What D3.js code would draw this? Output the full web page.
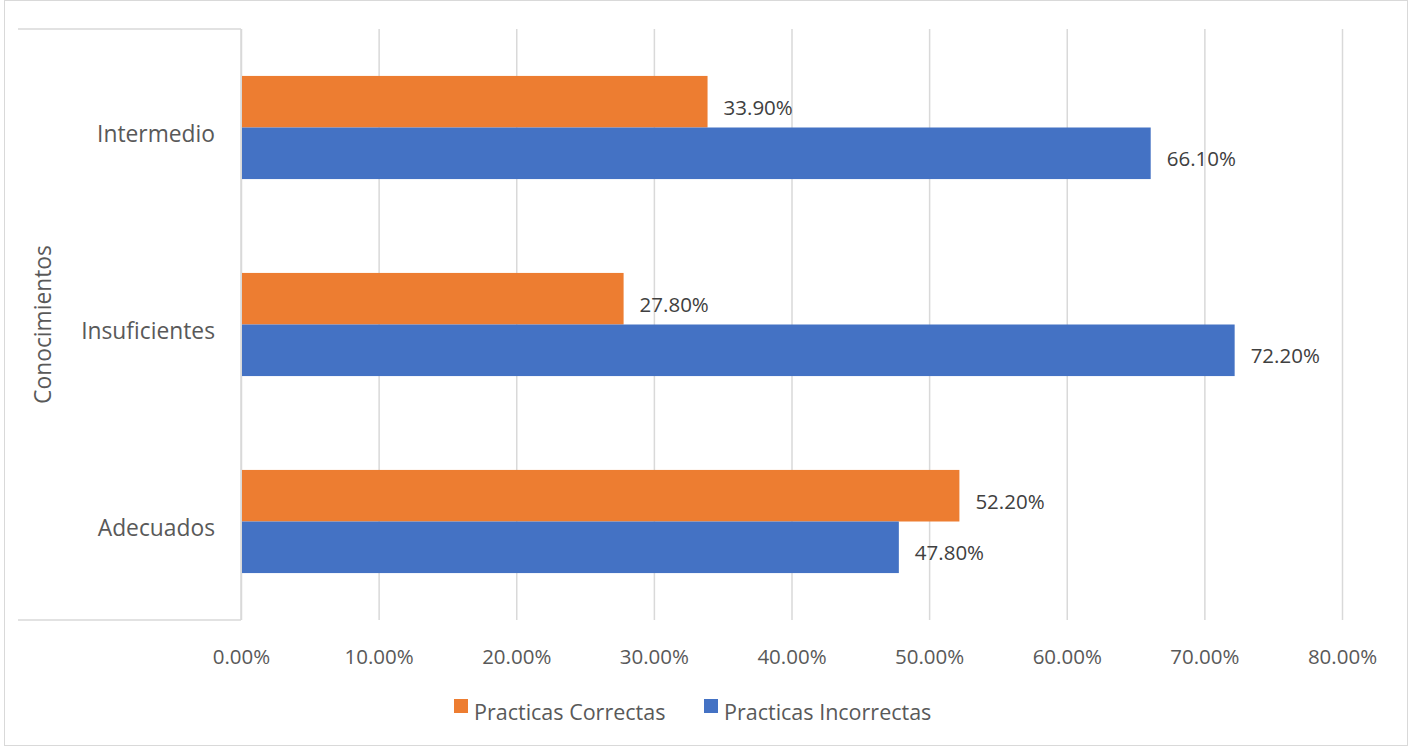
<!DOCTYPE html>
<html>
<head>
<meta charset="utf-8">
<script src="https://cdn.jsdelivr.net/npm/d3@7"></script>
<style>
  body { margin: 0; background: #fff; }
  text { font-family: "Open Sans", "Noto Sans", sans-serif; }
</style>
</head>
<body>
<div id="chart"></div>
<script>
const categories = ["Intermedio", "Insuficientes", "Adecuados"];
const seriesNames = ["Practicas Correctas", "Practicas Incorrectas"];
const correctas = [0.339, 0.278, 0.522];
const incorrectas = [0.661, 0.722, 0.478];
const tickValues = [0, 0.1, 0.2, 0.3, 0.4, 0.5, 0.6, 0.7, 0.8];
const axisTitle = "Conocimientos";

const colors = ["#ED7D31", "#4472C4"];
const width = 1409, height = 746;
const plot = { left: 241, right: 1342, top: 29, bottom: 620 };

const rows = categories.map((c, i) => ({ cat: c, values: [correctas[i], incorrectas[i]] }));

const svg = d3.select("#chart").append("svg").attr("width", width).attr("height", height);

// chart border
svg.append("rect")
    .attr("x", 4.5).attr("y", 0.5)
    .attr("width", 1403).attr("height", 745)
    .attr("fill", "#fff")
    .attr("stroke", "#d9d9d9");

const xScale = d3.scaleLinear().domain([0, 0.8]).range([plot.left, plot.right]);
const yScale = d3.scaleBand().domain(categories).range([plot.top, plot.bottom]);
const groupH = yScale.bandwidth() * 2 / (2 + 1.82);
const ySub = d3.scaleBand().domain(seriesNames).range([0, groupH]);

// gridlines + tick labels
const xAxis = d3.axisBottom(xScale)
    .tickValues(tickValues)
    .tickSize(-(plot.bottom - plot.top))
    .tickFormat(d3.format(".2%"));

const gx = svg.append("g")
    .attr("transform", `translate(0,${plot.bottom})`)
    .call(xAxis);
gx.select(".domain").remove();
gx.selectAll(".tick line").attr("stroke", "#d9d9d9").attr("stroke-width", 1.5);
gx.selectAll(".tick text")
    .attr("y", 44).attr("dy", null)
    .attr("fill", "#595959")
    .style("font-size", "20.5px");

// category axis box
const box = svg.append("g").attr("stroke", "#d9d9d9").attr("stroke-width", 1.5).attr("fill", "none");
box.append("line").attr("x1", 18).attr("x2", plot.left).attr("y1", plot.top).attr("y2", plot.top);
box.append("line").attr("x1", 18).attr("x2", plot.left).attr("y1", plot.bottom).attr("y2", plot.bottom);
box.append("line").attr("x1", plot.left).attr("x2", plot.left).attr("y1", plot.top).attr("y2", plot.bottom);

// bars
const groups = svg.append("g").selectAll("g")
    .data(rows)
    .join("g")
    .attr("transform", d => `translate(0,${yScale(d.cat) + (yScale.bandwidth() - groupH) / 2})`);

groups.selectAll("rect")
    .data(d => d.values.map((v, i) => ({ v, s: seriesNames[i], i })))
    .join("rect")
    .attr("x", xScale(0) + 1)
    .attr("y", d => ySub(d.s))
    .attr("width", d => xScale(d.v) - xScale(0) - 1)
    .attr("height", ySub.bandwidth())
    .attr("fill", d => colors[d.i]);

groups.selectAll("text.val")
    .data(d => d.values.map((v, i) => ({ v, s: seriesNames[i], i })))
    .join("text")
    .attr("class", "val")
    .attr("x", d => xScale(d.v) + 16)
    .attr("y", d => ySub(d.s) + ySub.bandwidth() / 2 + 13)
    .attr("fill", "#404040")
    .style("font-size", "20.5px")
    .text(d => d3.format(".2%")(d.v));

// category labels
svg.append("g").selectAll("text")
    .data(categories)
    .join("text")
    .attr("x", 215)
    .attr("y", d => yScale(d) + yScale.bandwidth() / 2 + 14)
    .attr("text-anchor", "end")
    .attr("fill", "#595959")
    .style("font-size", "22.8px")
    .text(d => d);

// axis title
svg.append("text")
    .attr("transform", `translate(51,${(plot.top + plot.bottom) / 2}) rotate(-90)`)
    .attr("text-anchor", "middle")
    .attr("fill", "#595959")
    .style("font-size", "22.8px")
    .text(axisTitle);

// legend
const legendX = [454, 704];
const legend = svg.append("g").selectAll("g")
    .data(seriesNames)
    .join("g")
    .attr("transform", (d, i) => `translate(${legendX[i]},699)`);
legend.append("rect").attr("width", 14).attr("height", 14).attr("fill", (d, i) => colors[i]);
legend.append("text")
    .attr("x", 20).attr("y", 21)
    .attr("fill", "#595959")
    .style("font-size", "21.5px")
    .text(d => d);
</script>
</body>
</html>
